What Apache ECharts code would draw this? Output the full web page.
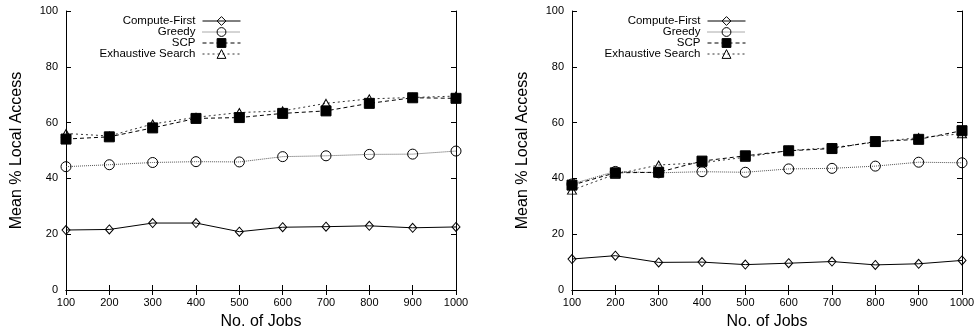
<!DOCTYPE html>
<html><head><meta charset="utf-8">
<script src="https://cdn.jsdelivr.net/npm/echarts@6/dist/echarts.min.js"></script>
<style>html,body{margin:0;padding:0;background:#fff}#c{width:979px;height:333px}</style>
</head><body><div id="c"></div>
<script>
const jobs = [100,200,300,400,500,600,700,800,900,1000];
const yTicks = [0,20,40,60,80,100];
const seriesNames = ['Compute-First','Greedy','SCP','Exhaustive Search'];
// left chart
const leftComputeFirst = [21.5,21.7,24.0,24.0,20.9,22.5,22.7,23.0,22.3,22.6];
const leftGreedy = [44.2,44.9,45.7,46.0,45.9,47.8,48.1,48.6,48.7,49.8];
const leftSCP = [54.1,54.9,58.1,61.5,61.8,63.3,64.2,66.9,68.9,68.7];
const leftExhaustive = [56.1,55.2,59.5,61.9,63.6,64.2,66.9,68.5,69.0,69.5];
// right chart
const rightComputeFirst = [11.1,12.3,9.9,10.0,9.1,9.6,10.2,9.0,9.4,10.6];
const rightGreedy = [38.0,42.5,42.0,42.4,42.2,43.4,43.6,44.4,45.8,45.6];
const rightSCP = [37.6,42.0,42.2,46.2,48.1,49.9,50.7,53.2,54.0,57.1];
const rightExhaustive = [35.8,41.5,44.8,45.6,47.6,50.0,51.0,53.0,54.6,56.0];

const FONT = 'Liberation Sans';
const pair = v => jobs.map((j,i)=>[j,v[i]]);
const styles = {
  'Compute-First': {symbol:'diamond', symbolSize:[8,9], line:{color:'#000',width:1,type:'solid'}, fill:'rgba(255,255,255,0)'},
  'Greedy': {symbol:'circle', symbolSize:10, line:{color:'#555',width:1,type:[1,1]}, fill:'rgba(255,255,255,0)'},
  'SCP': {symbol:'rect', symbolSize:10, line:{color:'#000',width:1,type:[4,3]}, fill:'#000'},
  'Exhaustive Search': {symbol:'triangle', symbolSize:[9,8], line:{color:'#333',width:1,type:[2,3]}, fill:'rgba(255,255,255,0)'}
};
function mk(name, vals, gi){
  const s = styles[name];
  return {
    name, type:'line', xAxisIndex: gi*2, yAxisIndex: gi*2, data: pair(vals),
    symbol: s.symbol, symbolSize: s.symbolSize, showAllSymbol:true,
    lineStyle: s.line,
    itemStyle: {color: s.fill, borderColor:'#000', borderWidth:1},
    emphasis:{disabled:true}, animation:false, z: name==='SCP'?3:2
  };
}
const grids = [
  {left:66, right:523, top:11, bottom:43, containLabel:false, outerBoundsMode:'none'},
  {left:572, right:17, top:11, bottom:43, containLabel:false, outerBoundsMode:'none'}
];
const xAxes = [], yAxes = [];
grids.forEach((g,gi)=>{
  xAxes.push({gridIndex:gi, type:'value', min:100, max:1000, interval:100, position:'bottom',
    name:'No. of Jobs', nameLocation:'middle', nameGap:24,
    nameTextStyle:{fontFamily:FONT, fontSize:16, color:'#000'},
    axisLine:{lineStyle:{color:'#000',width:1}}, axisTick:{inside:true,length:5,lineStyle:{color:'#000'}},
    axisLabel:{fontFamily:FONT, fontSize:11, color:'#000', margin:7, formatter: v => String(v)}, splitLine:{show:false}});
  xAxes.push({gridIndex:gi, type:'value', min:100, max:1000, interval:100, position:'top',
    axisLine:{show:true,lineStyle:{color:'#000',width:1}}, axisTick:{inside:true,length:5,lineStyle:{color:'#000'}},
    axisLabel:{show:false}, splitLine:{show:false}});
  yAxes.push({gridIndex:gi, type:'value', min:yTicks[0], max:yTicks[yTicks.length-1], interval:20, position:'left',
    name:'Mean % Local Access', nameLocation:'middle', nameGap:41,
    nameTextStyle:{fontFamily:FONT, fontSize:16, color:'#000'},
    axisLine:{show:true,lineStyle:{color:'#000',width:1}}, axisTick:{show:true,inside:true,length:5,lineStyle:{color:'#000'}},
    axisLabel:{fontFamily:FONT, fontSize:11, color:'#000', margin:8}, splitLine:{show:false}});
  yAxes.push({gridIndex:gi, type:'value', min:0, max:100, interval:20, position:'right',
    axisLine:{show:true,lineStyle:{color:'#000',width:1}}, axisTick:{show:true,inside:true,length:5,lineStyle:{color:'#000'}},
    axisLabel:{show:false}, splitLine:{show:false}});
});
const series = [
  mk('Compute-First', leftComputeFirst, 0), mk('Greedy', leftGreedy, 0),
  mk('SCP', leftSCP, 0), mk('Exhaustive Search', leftExhaustive, 0),
  mk('Compute-First', rightComputeFirst, 1), mk('Greedy', rightGreedy, 1),
  mk('SCP', rightSCP, 1), mk('Exhaustive Search', rightExhaustive, 1)
];
const legends = [];
[738, 233].forEach(r=>{
  seriesNames.forEach((n,i)=>{
    legends.push({data:[n], right:r, top:15+i*11, orient:'vertical', align:'right', padding:0,
      itemWidth:38, itemHeight:11, selectedMode:false,
      lineStyle:{width:1}, itemStyle:{borderWidth:1},
      textStyle:{fontFamily:FONT, fontSize:11.5, color:'#000', padding:[0,2,0,0]}});
  });
});
const chart = echarts.init(document.getElementById('c'), null, {renderer:'canvas'});
chart.setOption({backgroundColor:'#fff', animation:false, grid:grids, xAxis:xAxes, yAxis:yAxes, legend:legends, series});
</script></body></html>
